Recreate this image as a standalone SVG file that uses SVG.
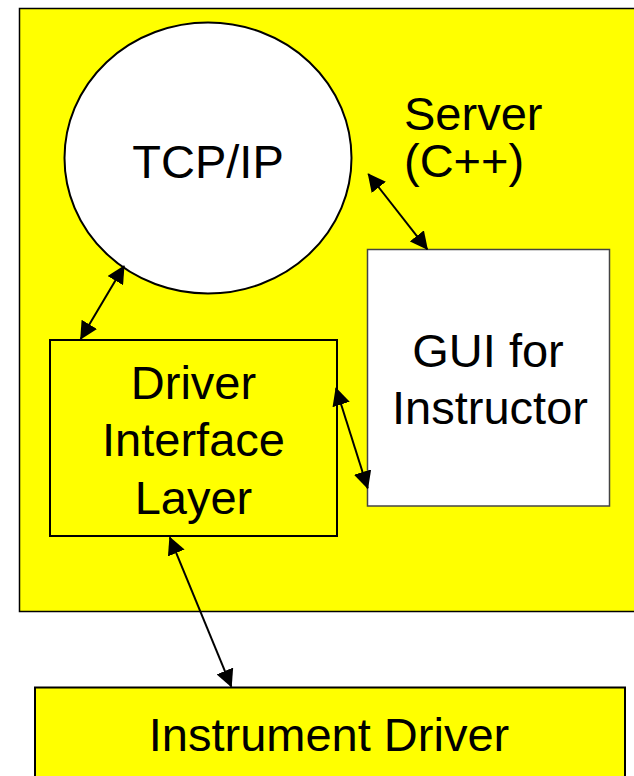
<svg xmlns="http://www.w3.org/2000/svg" width="634" height="776" viewBox="0 0 634 776">
<style>
  .lbl { font-family: "Liberation Sans", Arial, sans-serif; font-size: 47px; fill: #000; }
  .mid { text-anchor: middle; }
  .conn { stroke: #000; stroke-width: 2; fill: none; marker-start: url(#ah); marker-end: url(#ah); }
</style>
<defs>
  <marker id="ah" markerUnits="userSpaceOnUse" markerWidth="18" markerHeight="18" viewBox="0 0 18 18" refX="17" refY="9" orient="auto-start-reverse">
    <path d="M0,0 L18,9 L0,18 z" fill="#000"/>
  </marker>
</defs>
<rect width="634" height="776" fill="#fff"/>
<g id="server">
  <rect x="19.5" y="8.5" width="630" height="603" fill="#ffff00" stroke="#000" stroke-width="1.5"/>
  <text class="lbl" x="404" y="130">Server</text>
  <text class="lbl" x="404" y="177">(C++)</text>
</g>
<g id="tcpip">
  <ellipse cx="208" cy="158" rx="143.5" ry="135.5" fill="#fff" stroke="#000" stroke-width="2"/>
  <text class="lbl mid" x="208" y="177.5">TCP/IP</text>
</g>
<g id="gui">
  <rect x="367.5" y="249.5" width="242" height="256.5" fill="#fff" stroke="#444" stroke-width="1.5"/>
  <text class="lbl mid" x="488" y="366.5">GUI for</text>
  <text class="lbl mid" x="490" y="423.5">Instructor</text>
</g>
<g id="dil">
  <rect x="50" y="340" width="287" height="196" fill="#ffff00" stroke="#000" stroke-width="2"/>
  <text class="lbl mid" x="193.5" y="398.5">Driver</text>
  <text class="lbl mid" x="193.5" y="456">Interface</text>
  <text class="lbl mid" x="193.5" y="513.5">Layer</text>
</g>
<g id="instrument">
  <rect x="35" y="687.5" width="590" height="100" fill="#ffff00" stroke="#000" stroke-width="2"/>
  <text class="lbl mid" x="329" y="751">Instrument Driver</text>
</g>
<g id="connectors">
  <line class="conn" x1="124" y1="266" x2="80.7" y2="339"/>
  <line class="conn" x1="368.3" y1="174" x2="427.3" y2="249.3"/>
  <line class="conn" x1="336" y1="388.3" x2="367.7" y2="488.3"/>
  <line class="conn" x1="169.8" y1="537.3" x2="231.3" y2="686.7"/>
</g>
</svg>
